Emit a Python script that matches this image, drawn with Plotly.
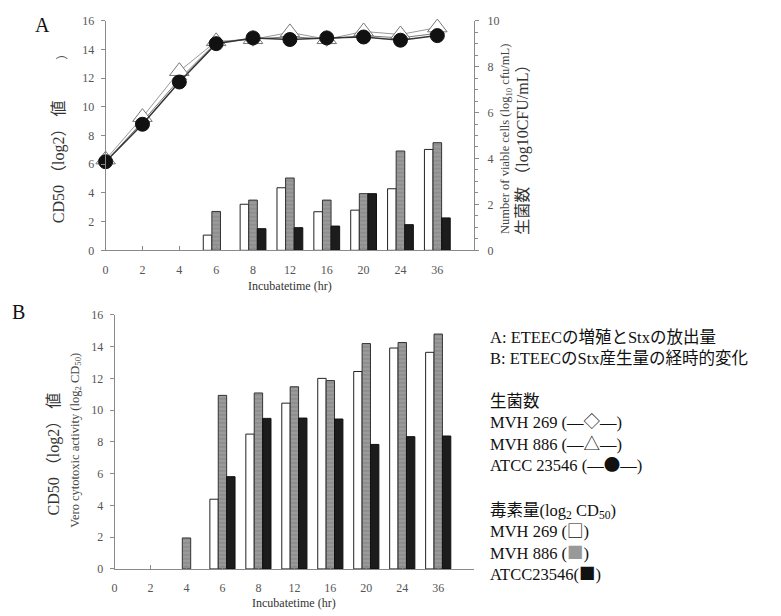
import plotly.graph_objects as go

W, H = 781, 616

categories = ["0", "2", "4", "6", "8", "12", "16", "20", "24", "36"]

# Panel A: viable cells (log10 CFU/mL), right axis
cells_mvh269 = [3.85, 5.6, 7.45, 9.05, 9.2, 9.3, 9.2, 9.35, 9.25, 9.45]
cells_mvh886 = [3.95, 5.8, 7.8, 9.1, 9.19, 9.49, 9.19, 9.53, 9.4, 9.7]
cells_atcc = [3.86, 5.49, 7.33, 9.0, 9.25, 9.18, 9.25, 9.29, 9.15, 9.35]

# Panel A: toxin CD50 (log2), left axis
a_mvh269 = [None, None, None, 1.06, 3.21, 4.36, 2.69, 2.80, 4.29, 7.03]
a_mvh886 = [None, None, None, 2.71, 3.50, 5.04, 3.50, 3.95, 6.92, 7.50]
a_atcc = [None, None, None, None, 1.51, 1.58, 1.69, 3.95, 1.79, 2.26]

# Panel B: Vero cytotoxic activity (log2 CD50)
b_mvh269 = [None, None, None, 4.39, 8.49, 10.44, 12.0, 12.43, 13.91, 13.64]
b_mvh886 = [None, None, 1.95, 10.93, 11.08, 11.47, 11.86, 14.19, 14.26, 14.79]
b_atcc = [None, None, None, 5.81, 9.48, 9.50, 9.44, 7.84, 8.33, 8.37]

left_ticks = [0, 2, 4, 6, 8, 10, 12, 14, 16]
right_ticks = [0, 2, 4, 6, 8, 10]

xs = list(range(len(categories)))

SERIF = "Liberation Serif, Noto Sans CJK JP, serif"
TICKFONT = dict(family=SERIF, size=12, color="#555")
AXCOL = "#8a8a8a"

def px(x, y):
    return x / W, 1 - y / H

fig = go.Figure()

gray_pattern = dict(shape="-", fgcolor="#c4c4c4", bgcolor="#8e8e8e", size=4, solidity=0.25)

def add_bars(vals_w, vals_g, vals_b, xa, ya):
    fig.add_trace(go.Bar(x=xs, y=vals_w, xaxis=xa, yaxis=ya, marker=dict(color="white", line=dict(color="#222", width=1)), showlegend=False))
    fig.add_trace(go.Bar(x=xs, y=vals_g, xaxis=xa, yaxis=ya, marker=dict(color="#8e8e8e", pattern=gray_pattern, line=dict(color="#333", width=1)), showlegend=False))
    fig.add_trace(go.Bar(x=xs, y=vals_b, xaxis=xa, yaxis=ya, marker=dict(color="#1c1c1c", line=dict(color="#111", width=1)), showlegend=False))

add_bars(a_mvh269, a_mvh886, a_atcc, "x", "y")
add_bars(b_mvh269, b_mvh886, b_atcc, "x2", "y3")

fig.add_trace(go.Scatter(x=xs, y=cells_mvh269, xaxis="x", yaxis="y2", mode="lines+markers",
                         line=dict(color="#777", width=1),
                         marker=dict(symbol="diamond", size=11, color="white", line=dict(color="#777", width=1)),
                         cliponaxis=False, showlegend=False))
fig.add_trace(go.Scatter(x=xs, y=cells_mvh886, xaxis="x", yaxis="y2", mode="lines+markers",
                         line=dict(color="#999", width=1),
                         marker=dict(symbol="triangle-up", size=17, color="white", line=dict(color="#777", width=1)),
                         cliponaxis=False, showlegend=False))
fig.add_trace(go.Scatter(x=xs, y=cells_atcc, xaxis="x", yaxis="y2", mode="lines+markers",
                         line=dict(color="#333", width=1.5),
                         marker=dict(symbol="circle", size=14, color="#111", line=dict(color="#111", width=1)),
                         cliponaxis=False, showlegend=False))

xa_common = dict(range=[0, 10], tickmode="array", tickvals=xs, ticktext=categories,
                 showline=True, linecolor=AXCOL, linewidth=1, ticks="inside", ticklen=4,
                 tickcolor=AXCOL, tickfont=TICKFONT, showgrid=False, zeroline=False,
                 ticklabelstandoff=8)
ya_common = dict(range=[0, 16], tickmode="array", tickvals=left_ticks,
                 showline=True, linecolor=AXCOL, linewidth=1, ticks="outside", ticklen=4,
                 tickcolor=AXCOL, tickfont=TICKFONT, showgrid=False, zeroline=False,
                 ticklabelstandoff=4)

fig.update_layout(
    width=W, height=H,
    margin=dict(l=0, r=0, t=0, b=0),
    paper_bgcolor="white", plot_bgcolor="white",
    barmode="group", bargap=0.3, bargroupgap=0,
    xaxis=dict(domain=[103 / W, 473 / W], anchor="y", **xa_common),
    yaxis=dict(domain=[1 - 249 / H, 1 - 14 / H], anchor="x", **ya_common),
    yaxis2=dict(range=[0, 10], overlaying="y", side="right", anchor="x",
                tickmode="array", tickvals=right_ticks, showline=True, linecolor=AXCOL,
                linewidth=1, ticks="outside", ticklen=4, tickcolor=AXCOL, tickfont=TICKFONT,
                showgrid=False, zeroline=False, ticklabelstandoff=6,
                minor=dict(dtick=0.5, ticks="outside", ticklen=3, tickcolor=AXCOL)),
    xaxis2=dict(domain=[112 / W, 473 / W], anchor="y3", **xa_common),
    yaxis3=dict(domain=[1 - 575 / H, 1 - 315 / H], anchor="x2", **ya_common),
)

def ann(text, x, y, size=12, angle=0, xanchor="center", yanchor="middle", color="#222", align="center"):
    ax, ay = px(x, y)
    fig.add_annotation(text=text, x=ax, y=ay, xref="paper", yref="paper", showarrow=False,
                       textangle=angle, xanchor=xanchor, yanchor=yanchor, align=align,
                       font=dict(family=SERIF, size=size, color=color))

# panel letters
ann("A", 40, 18, size=20, color="#111")
ann("B", 16, 312, size=20, color="#111")

# Panel A titles
ann("CD50 （log2） 値", 57, 158, size=16, angle=-90, color="#333")
ann("）", 60, 48, size=12, angle=-90, color="#555")
ann("Incubatetime (hr)", 288, 285, size=12, color="#333")
ann("Number of viable cells (log<sub>10</sub> cfu/mL)", 505, 135, size=12.5, angle=-90, color="#444")
ann("生菌数 （log10CFU/mL）", 522, 142, size=16, angle=-90, color="#333")

# Panel B titles
ann("CD50 （log2） 値", 51, 457, size=16, angle=-90, color="#333")
ann("Vero cytotoxic activity (log<sub>2</sub> CD<sub>50</sub>)", 73, 443, size=12.5, angle=-90, color="#444")
ann("Incubatetime (hr)", 292, 610, size=12, color="#333")

CJK = "font-family:'Noto Sans CJK JP'"

# Legend / notes block (grouped as multi-line texts)
note_groups = [
    (["A: ETEECの増殖とStxの放出量",
      "B: ETEECのStx産生量の経時的変化"], 349),
    (["生菌数",
      f"MVH 269 (—<span style=\"{CJK}\">◇</span>—)",
      f"MVH 886 (—<span style=\"{CJK}\">△</span>—)",
      f"ATCC 23546 (—<span style=\"{CJK}\">●</span>—)"], 437),
    (["毒素量(log<sub>2</sub> CD<sub>50</sub>)",
      f"MVH 269 (<span style=\"{CJK}\">□</span>)",
      f"MVH 886 (<span style=\"{CJK};color:#999\">■</span>)",
      f"ATCC23546(<span style=\"{CJK}\">■</span>)"], 548),
]
for lines, yc in note_groups:
    ann("<br>".join(lines), 487, yc, size=16.5, xanchor="left", color="#111", align="left")

fig.write_html("out.html")
